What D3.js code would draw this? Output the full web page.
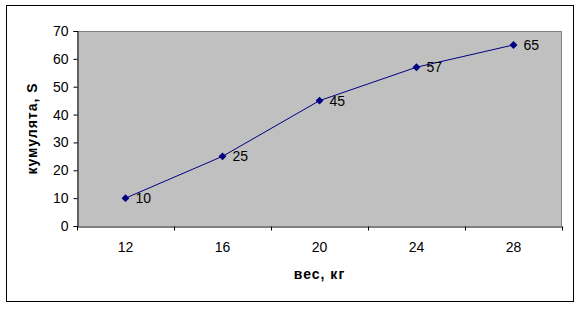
<!DOCTYPE html>
<html><head><meta charset="utf-8">
<script src="https://cdn.jsdelivr.net/npm/d3@7"></script>
<style>body{margin:0;background:#fff}svg{display:block}text{font-family:"Liberation Sans",Arial,sans-serif}</style>
</head><body>
<svg id="c" width="580" height="309"></svg>
<script>
const categories = ["12","16","20","24","28"];
const values = [10,25,45,57,65];
const yTicks = [0,10,20,30,40,50,60,70];
const xTitle = "вес, кг";
const yTitle = "кумулята, S";

const svg = d3.select("#c");
const L=77,R=562,T=31,B=226;
svg.append("rect").attr("x",6.5).attr("y",5.5).attr("width",567).attr("height",296)
  .attr("fill","#fff").attr("stroke","#000").attr("stroke-width",1);

const x = d3.scaleBand().domain(categories).range([L,R]).padding(0);
const y = d3.scaleLinear().domain([0,70]).range([B,T]);

svg.append("rect").attr("x",L).attr("y",T).attr("width",R-L).attr("height",B-T).attr("fill","#c0c0c0");
svg.append("path").attr("d",`M${L},${T+0.5}H${R-0.5}V${B}`).attr("fill","none").attr("stroke","#808080");

const yAxis = svg.append("g").attr("transform",`translate(${L+0.5},0)`)
  .call(d3.axisLeft(y).tickValues(yTicks).tickSize(4).tickPadding(5).tickFormat(d3.format("d")));
yAxis.selectAll("text").attr("font-size",14).attr("fill","#000").attr("font-family","Liberation Sans, Arial, sans-serif");
yAxis.selectAll("line,path").attr("stroke","#000");

const xAxis = svg.append("g").attr("transform",`translate(0,${B+0.5})`)
  .call(d3.axisBottom(x).tickSize(0).tickPadding(16));
xAxis.selectAll("text").attr("font-size",14).attr("fill","#000").attr("font-family","Liberation Sans, Arial, sans-serif");
xAxis.select("path").attr("stroke","#000");
const bounds = categories.map(c=>x(c)).concat([R]);
xAxis.selectAll(".bt").data(bounds).enter().append("line").attr("class","bt")
  .attr("x1",d=>Math.round(d)+0.5).attr("x2",d=>Math.round(d)+0.5).attr("y1",0).attr("y2",4).attr("stroke","#000");

const cx = c=>x(c)+x.bandwidth()/2;
const line = d3.line().x((d,i)=>cx(categories[i])).y(d=>y(d));
svg.append("path").datum(values).attr("d",line).attr("fill","none").attr("stroke","#000080").attr("stroke-width",1);
svg.selectAll(".m").data(values).enter().append("path")
  .attr("d",d3.symbol().type(d3.symbolDiamond2).size(40))
  .attr("transform",(d,i)=>`translate(${cx(categories[i])},${y(d)})`).attr("fill","#000080");
svg.selectAll(".lbl").data(values).enter().append("text")
  .attr("x",(d,i)=>cx(categories[i])+10).attr("y",d=>y(d)+5).attr("font-size",14).text(d=>d);

svg.append("text").attr("x",(L+R)/2).attr("y",279).attr("text-anchor","middle").attr("font-size",14).attr("letter-spacing",1).attr("font-weight","bold").text(xTitle);
svg.append("text").attr("transform",`translate(37,${(T+B)/2}) rotate(-90)`).attr("text-anchor","middle").attr("font-size",14).attr("letter-spacing",1).attr("font-weight","bold").text(yTitle);
</script>
</body></html>
